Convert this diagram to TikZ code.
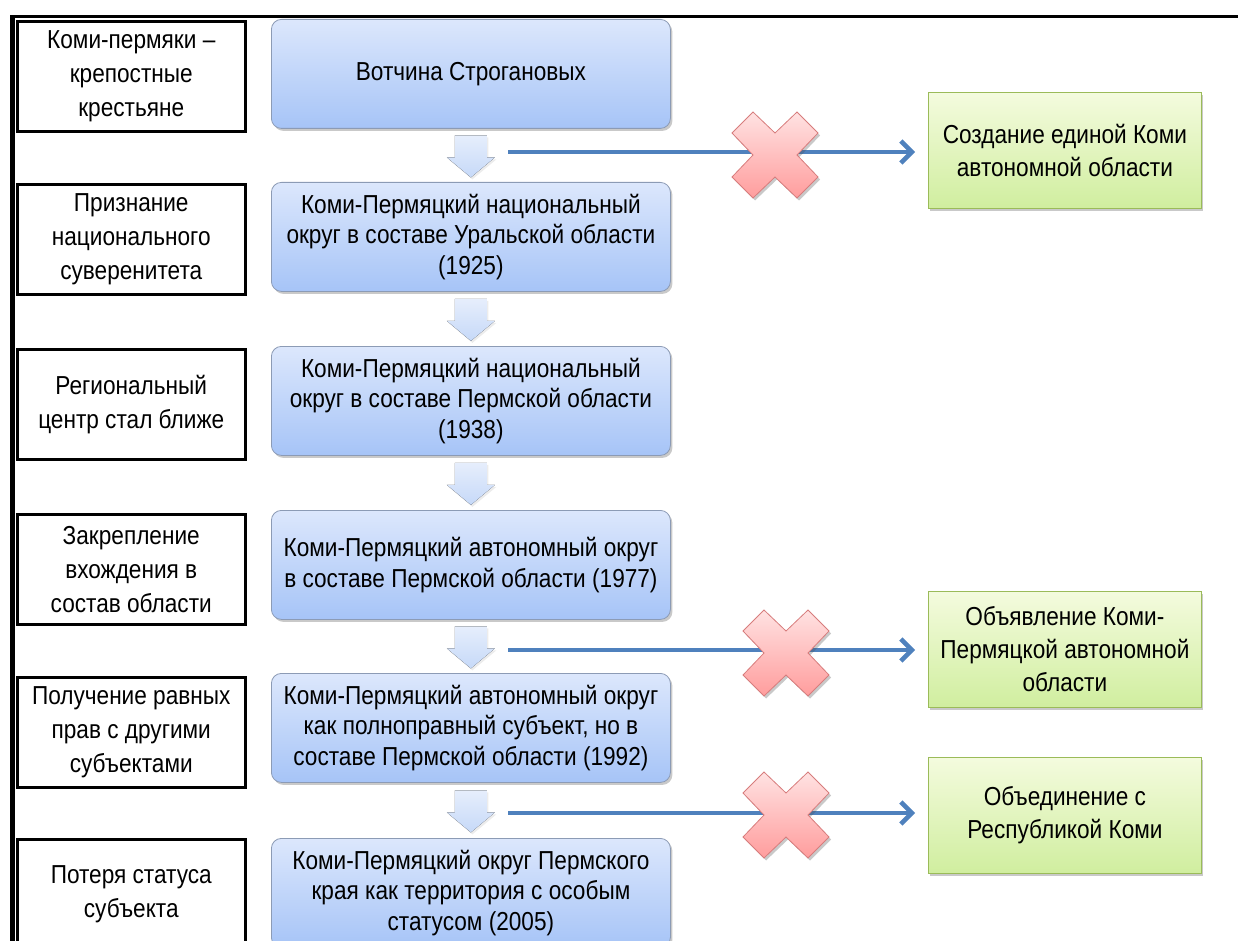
\documentclass[tikz,border=0pt]{standalone}
\usepackage{fontspec}
\setmainfont{Liberation Sans}[FakeStretch=0.87]
\usetikzlibrary{shadows,arrows.meta,calc}
\definecolor{bluetop}{HTML}{DCE7FC}
\definecolor{bluebot}{HTML}{A6C4F7}
\definecolor{blueborder}{HTML}{8C9BB5}
\definecolor{greentop}{HTML}{F4FBDE}
\definecolor{greenbot}{HTML}{D0EE9F}
\definecolor{greenborder}{HTML}{9BBB59}
\definecolor{chevtop}{HTML}{E6EEFC}
\definecolor{chevbot}{HTML}{C6D9F8}
\definecolor{crosstop}{HTML}{FFE2E2}
\definecolor{crossbot}{HTML}{FF9D9D}
\definecolor{crossborder}{HTML}{D77C7C}
\definecolor{arrowblue}{HTML}{4F81BD}
\begin{document}
\begin{tikzpicture}[x=1pt,y=-1pt,
  softshadow/.style={drop shadow={shadow xshift=2pt,shadow yshift=-2.5pt,opacity=0.3,fill=black!70}},
  faintshadow/.style={drop shadow={shadow xshift=1.5pt,shadow yshift=-2pt,opacity=0.12,fill=black!60}},
  leftbox/.style={draw=black,line width=3pt,minimum width=227.5pt,minimum height=110pt,
    anchor=north west,align=center,inner sep=0pt,font=\fontsize{26}{34}\selectfont},
  bluebox/.style={draw=blueborder,line width=0.8pt,rounded corners=10pt,top color=bluetop,bottom color=bluebot,
    softshadow,minimum width=399pt,minimum height=109pt,anchor=north west,align=center,inner sep=0pt,
    font=\fontsize{26}{30.5}\selectfont},
  greenbox/.style={draw=greenborder,line width=0.8pt,top color=greentop,bottom color=greenbot,
    softshadow,minimum width=273pt,minimum height=116pt,anchor=north west,align=center,inner sep=0pt,
    font=\fontsize{26}{33}\selectfont},
  hline/.style={draw=arrowblue,line width=4.5pt,shorten >=13pt,-{Straight Barb[length=11pt,width=22pt]}},
  downchev/.pic={\fill[top color=chevtop,bottom color=chevbot,faintshadow]
    (-16,-21) -- (16,-21) -- (16,1) -- (24,1) -- (0,21) -- (-24,1) -- (-16,1) -- cycle;},
  redx/.pic={\draw[draw=crossborder,line width=0.8pt,top color=crosstop,bottom color=crossbot,softshadow]
    (-22,-43) -- (0,-22) -- (22,-43) -- (43,-22) -- (22,0) -- (43,22) -- (22,43) -- (0,22)
    -- (-22,43) -- (-43,22) -- (-22,0) -- (-43,-22) -- cycle;}
]
\useasboundingbox (0,0) rectangle (1238,941);
% frame lines
\draw[line width=3pt] (10,17) -- (1238,17);
\draw[line width=5pt] (12,15.5) -- (12,950);
% left column
\node[leftbox] (l1) at (16,20) {Коми-пермяки –\\крепостные\\крестьяне};
\node[leftbox] (l2) at (16,183) {Признание\\национального\\суверенитета};
\node[leftbox] (l3) at (16,348) {Региональный\\центр стал ближе};
\node[leftbox] (l4) at (16,513) {Закрепление\\вхождения в\\состав области};
\node[leftbox] (l5) at (16,676) {Получение равных\\прав с другими\\субъектами};
\node[leftbox] (l6) at (16,838) {Потеря статуса\\субъекта};
% blue column
\node[bluebox] (b1) at (271,19) {Вотчина Строгановых};
\node[bluebox] (b2) at (271,182) {Коми-Пермяцкий национальный\\округ в составе Уральской области\\(1925)};
\node[bluebox] (b3) at (271,346) {Коми-Пермяцкий национальный\\округ в составе Пермской области\\(1938)};
\node[bluebox] (b4) at (271,510) {Коми-Пермяцкий автономный округ\\в составе Пермской области (1977)};
\node[bluebox] (b5) at (271,673) {Коми-Пермяцкий автономный округ\\как полноправный субъект, но в\\составе Пермской области (1992)};
\node[bluebox] (b6) at (271,838) {Коми-Пермяцкий округ Пермского\\края как территория с особым\\статусом (2005)};
% chevrons
\pic at ($(b1.south)!0.5!(b2.north)+(0,1)$) {downchev};
\pic at ($(b2.south)!0.5!(b3.north)+(0,1)$) {downchev};
\pic at ($(b3.south)!0.5!(b4.north)+(0,1)$) {downchev};
\pic at ($(b4.south)!0.5!(b5.north)+(0,1)$) {downchev};
\pic at ($(b5.south)!0.5!(b6.north)+(0,1)$) {downchev};
% green column
\node[greenbox] (g1) at (928,92) {Создание единой Коми\\автономной области};
\node[greenbox] (g2) at (928,591) {Объявление Коми-\\Пермяцкой автономной\\области};
\node[greenbox] (g3) at (928,757) {Объединение с\\Республикой Коми};
% arrows
\coordinate (a1) at (508,152);
\coordinate (a2) at (508,650);
\coordinate (a3) at (508,813);
\draw[hline] (a1) -- (a1 -| g1.west);
\draw[hline] (a2) -- (a2 -| g2.west);
\draw[hline] (a3) -- (a3 -| g3.west);
% crosses
\pic at (775,155) {redx};
\pic at (786,653) {redx};
\pic at (786,815) {redx};
\end{tikzpicture}
\end{document}
